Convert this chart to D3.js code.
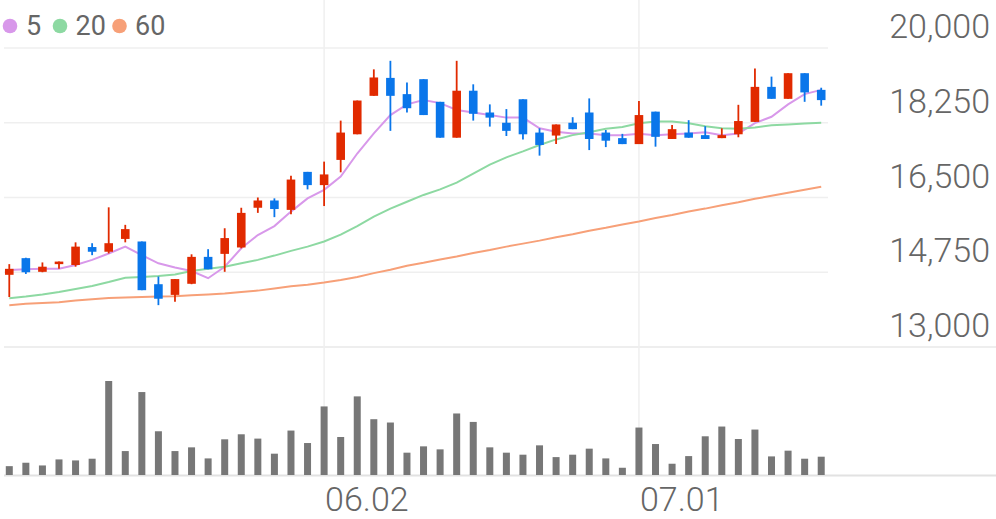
<!DOCTYPE html>
<html><head><meta charset="utf-8">
<script src="https://cdn.jsdelivr.net/npm/d3@7"></script>
<style>
body{margin:0;background:#fff}
svg{display:block}
text{font-family:Roboto,"Noto Sans",sans-serif}
</style>
</head><body>
<svg id="c" width="996" height="519"></svg>
<script>
const dates = ["05.02","05.07","05.08","05.09","05.12","05.13","05.14","05.15","05.16","05.19",
"05.20","05.21","05.22","05.23","05.26","05.27","05.28","05.29","05.30","06.02",
"06.04","06.05","06.09","06.10","06.11","06.12","06.13","06.16","06.17","06.18",
"06.19","06.20","06.23","06.24","06.25","06.26","06.27","06.30","07.01","07.02",
"07.03","07.04","07.07","07.08","07.09","07.10","07.11","07.14","07.15","07.16"];
const xTickLabels = ["06.02","07.01"];
const priceTicks = [13000,14750,16500,18250,20000];

const open  = [14690,15080,14760,14940,14920,15340,15230,15530,15470,14470,
14220,14480,15110,15180,15330,16260,16430,16210,17100,16790,
17380,17980,18880,19300,18920,19270,18740,17900,19000,18490,
18250,18800,18020,17950,18250,18490,18020,17890,17750,18510,
17870,18020,17960,17890,17980,18270,19090,18810,19410,19020];
const high  = [14940,15090,14980,15000,15450,15430,16270,15860,15470,14650,
14590,15170,15290,15780,16260,16500,16480,17010,17100,17340,
18300,18770,19500,19700,19190,19270,18740,19700,19150,18680,
18570,18800,18120,18210,18380,18820,18080,17990,18760,18510,
18200,18310,18170,18120,18670,19520,19330,19410,19410,19070];
const low   = [14170,14710,14750,14830,14880,15150,15190,15450,14330,13980,
14060,14470,14820,14760,15310,16140,16040,16110,16690,16300,
17090,17980,18880,18060,18490,18430,17900,17900,18300,18160,
17940,17860,17480,17750,18100,17610,17680,17750,17750,17690,
17870,17900,17870,17890,17910,18270,18810,18810,18740,18650];
const close = [14830,14750,14880,15000,15350,15230,15430,15760,14330,14130,
14590,15110,14820,15550,16140,16430,16230,16920,16790,17040,
18020,18770,19310,18880,18590,18430,17900,19000,18460,18370,
18060,17980,17730,18210,18100,17870,17830,17750,18430,17920,
18100,17900,17870,17960,18290,19090,18810,19410,18960,18780];
const volume = [88,122,95,155,145,162,935,238,825,435,
238,275,165,355,405,362,212,442,318,682,
378,782,555,522,222,285,255,612,528,275,
222,202,295,178,202,262,165,72,472,308,
112,188,385,482,358,452,185,242,162,182];
const ma5 = [14800,14820,14830,14830,14920,15040,15190,15350,15150,14960,
14860,14780,14610,14880,15310,15620,15830,16170,16480,16680,
16990,17530,18000,18430,18680,18780,18710,18550,18490,18430,
18370,18370,18120,18040,18000,18000,17960,17960,17990,17960,
17980,18000,18030,17960,18000,18240,18390,18680,18920,19020];
const ma20 = [14140,14180,14230,14290,14360,14430,14520,14620,14640,14660,
14700,14780,14830,14880,14960,15040,15140,15250,15350,15470,
15630,15830,16050,16240,16400,16560,16690,16850,17060,17270,
17440,17580,17730,17860,17960,18030,18110,18150,18240,18280,
18280,18240,18170,18120,18110,18140,18190,18210,18230,18250];
const ma60 = [13980,14010,14030,14050,14090,14120,14150,14160,14170,14180,
14190,14210,14230,14250,14290,14320,14370,14420,14460,14510,
14570,14640,14730,14810,14900,14970,15050,15120,15200,15270,
15350,15420,15490,15570,15640,15720,15790,15870,15940,16020,
16090,16170,16240,16320,16390,16470,16540,16610,16680,16750];
const legendLabels = ["5","20","60"];
const maColors = ["#d898ea","#8dd9a2","#f7a078"];

const svg = d3.select("#c");
const n = dates.length;
const x = d3.scaleBand().domain(d3.range(n)).range([1, 829.5]);
const cx = i => x(i) + x.bandwidth()/2;
const y = d3.scaleLinear().domain([13000,20000]).range([347,48]);
const yv = d3.scaleLinear().domain([0, d3.max(volume)]).range([475, 381]);

// horizontal grid
svg.append("g").selectAll("line").data(priceTicks).join("line")
  .attr("x1",4).attr("x2",d=> d===13000 ? 996 : 828)
  .attr("y1",d=>y(d)).attr("y2",d=>y(d))
  .attr("stroke", d=> d===13000 ? "#e8e8e8" : "#efefef").attr("stroke-width",1.5);
// bottom line
svg.append("line").attr("x1",4).attr("x2",996).attr("y1",475.5).attr("y2",475.5)
  .attr("stroke","#e2e2e2").attr("stroke-width",2);

// vertical grid
const vIdx = xTickLabels.map(l=>dates.indexOf(l));
svg.append("g").selectAll("line").data(vIdx).join("line")
  .attr("x1",d=>cx(d)).attr("x2",d=>cx(d)).attr("y1",0).attr("y2",475)
  .attr("stroke","#efefef").attr("stroke-width",1.5);

// y labels
svg.append("g").selectAll("text").data(priceTicks).join("text")
  .attr("x",990).attr("y",d=>y(d)-10).attr("text-anchor","end")
  .attr("fill","#666").attr("font-size",34).attr("font-weight",300)
  .text(d=>d3.format(",")(d));

// x labels
svg.append("g").selectAll("text").data(vIdx).join("text")
  .attr("x",d=>cx(d)+1).attr("y",511).attr("text-anchor","start")
  .attr("fill","#666").attr("font-size",34).attr("font-weight",300)
  .text(d=>dates[d]);

// volume
svg.append("g").selectAll("rect").data(volume).join("rect")
  .attr("x",(d,i)=>cx(i)-3.5).attr("width",7)
  .attr("y",d=>yv(d)).attr("height",d=>475-yv(d))
  .attr("fill","#777");

// MA lines
const line = d3.line().x((d,i)=>cx(i)).y(d=>y(d));
[ma5,ma20,ma60].forEach((arr,k)=>{
  svg.append("path").datum(arr).attr("d",line).attr("fill","none")
    .attr("stroke",maColors[k]).attr("stroke-width",2);
});

// candles
const up = "#e12a00", down = "#0a76ea";
const g = svg.append("g");
d3.range(n).forEach(i=>{
  const col = close[i] >= open[i] ? up : down;
  g.append("line").attr("x1",cx(i)).attr("x2",cx(i))
    .attr("y1",y(high[i])).attr("y2",y(low[i]))
    .attr("stroke",col).attr("stroke-width",1.8);
  const top = y(Math.max(open[i],close[i])), bot = y(Math.min(open[i],close[i]));
  g.append("rect").attr("x",cx(i)-4.3).attr("width",8.6)
    .attr("y",top).attr("height",Math.max(1.5,bot-top)).attr("fill",col);
});

// legend
const lx = [10,60,119.5], tx = [26,75.5,135];
legendLabels.forEach((l,k)=>{
  svg.append("circle").attr("cx",lx[k]).attr("cy",26).attr("r",7.3).attr("fill",maColors[k]);
  svg.append("text").attr("x",tx[k]).attr("y",34.5).attr("fill","#666")
    .attr("font-size",27).attr("font-weight",400).text(l);
});
</script>
</body></html>
